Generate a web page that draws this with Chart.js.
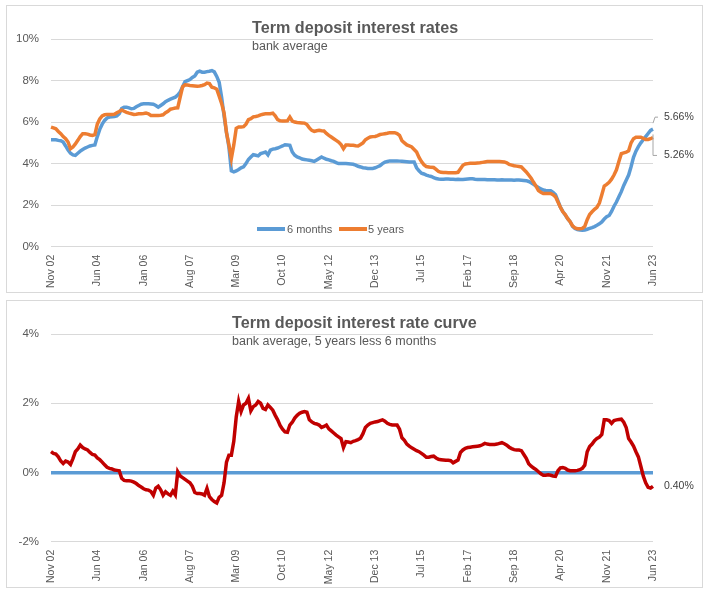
<!DOCTYPE html>
<html><head><meta charset="utf-8">
<script src="https://cdn.jsdelivr.net/npm/chart.js@4"></script>
<style>
html,body{margin:0;padding:0;background:#fff;}
body{width:709px;height:594px;position:relative;overflow:hidden;font-family:"Liberation Sans",Arial,sans-serif;}
.panel{position:absolute;left:6px;width:697px;height:288px;box-sizing:border-box;border:1px solid #d9d9d9;pointer-events:none;}
canvas.ch{position:absolute;left:6px;}
.title{position:absolute;font-weight:bold;font-size:17px;color:#595959;white-space:nowrap;transform-origin:0 0;transform:scaleX(0.95);line-height:1;}
.sub{position:absolute;font-size:12.5px;color:#595959;white-space:nowrap;line-height:1;}
.lg{position:absolute;height:4px;}
.lgt{position:absolute;font-size:11px;color:#595959;line-height:11px;white-space:nowrap;}
</style></head>
<body>
<canvas id="c1" class="ch" width="697" height="288" style="top:5px"></canvas>
<canvas id="c2" class="ch" width="697" height="288" style="top:300px"></canvas>
<div class="panel" style="top:5px"></div>
<div class="panel" style="top:300px"></div>
<div class="title" style="left:252px;top:19px">Term deposit interest rates</div>
<div class="sub" style="left:252px;top:40px">bank average</div>
<div class="title" style="left:232px;top:314px">Term deposit interest rate curve</div>
<div class="sub" style="left:232px;top:335px">bank average, 5 years less 6 months</div>
<div class="lg" style="left:257px;top:227px;width:28px;background:#5B9BD5"></div>
<div class="lgt" style="left:287px;top:223.5px">6 months</div>
<div class="lg" style="left:339px;top:227px;width:28px;background:#ED7D31"></div>
<div class="lgt" style="left:368px;top:223.5px">5 years</div>
<script>
const sixMonths = [
5.15,5.15,5.15,5.12,5.10,5.04,4.85,4.65,4.50,4.42,
4.40,4.50,4.60,4.68,4.75,4.80,4.85,4.88,4.90,5.30,
5.65,5.90,6.08,6.20,6.24,6.25,6.27,6.30,6.40,6.65,
6.72,6.72,6.68,6.64,6.66,6.74,6.80,6.86,6.88,6.88,
6.88,6.87,6.86,6.80,6.72,6.80,6.88,6.98,7.05,7.10,
7.15,7.20,7.30,7.45,7.70,7.95,8.00,8.05,8.15,8.22,
8.40,8.45,8.40,8.40,8.43,8.45,8.48,8.42,8.20,7.92,
7.20,6.30,5.50,4.80,3.65,3.60,3.65,3.72,3.80,3.85,
4.00,4.20,4.32,4.43,4.40,4.37,4.48,4.52,4.56,4.42,
4.65,4.70,4.72,4.75,4.80,4.85,4.91,4.90,4.88,4.56,
4.40,4.32,4.28,4.22,4.20,4.18,4.16,4.14,4.11,4.18,
4.25,4.32,4.26,4.21,4.18,4.14,4.11,4.05,4.00,4.00,
4.00,4.00,3.99,3.98,3.97,3.93,3.87,3.84,3.80,3.79,
3.77,3.76,3.77,3.80,3.85,3.90,4.00,4.07,4.10,4.13,
4.13,4.13,4.13,4.12,4.11,4.10,4.09,4.08,4.08,4.08,
3.80,3.65,3.54,3.50,3.45,3.41,3.38,3.33,3.28,3.26,
3.25,3.25,3.26,3.26,3.25,3.25,3.24,3.25,3.24,3.24,
3.25,3.26,3.27,3.27,3.25,3.24,3.24,3.24,3.23,3.22,
3.22,3.22,3.22,3.21,3.21,3.22,3.21,3.21,3.21,3.21,
3.20,3.21,3.21,3.20,3.19,3.18,3.14,3.08,3.00,2.92,
2.85,2.78,2.73,2.71,2.70,2.69,2.62,2.50,2.20,1.90,
1.70,1.52,1.35,1.20,0.98,0.88,0.82,0.80,0.79,0.80,
0.84,0.88,0.92,0.97,1.03,1.10,1.19,1.33,1.44,1.50,
1.70,1.95,2.15,2.40,2.65,2.95,3.20,3.45,3.85,4.30,
4.60,4.82,5.00,5.15,5.30,5.45,5.60,5.66];

const fiveYears = [
5.76,5.72,5.68,5.55,5.44,5.30,5.20,5.04,4.72,4.80,
4.95,5.12,5.30,5.44,5.44,5.42,5.38,5.36,5.40,5.90,
6.15,6.30,6.35,6.37,6.37,6.37,6.38,6.45,6.51,6.58,
6.52,6.47,6.43,6.40,6.37,6.38,6.40,6.40,6.41,6.43,
6.40,6.32,6.32,6.32,6.32,6.33,6.35,6.45,6.52,6.62,
6.65,6.68,6.69,7.20,7.70,7.79,7.78,7.76,7.75,7.74,
7.73,7.74,7.76,7.80,7.88,7.85,7.68,7.65,7.58,7.25,
6.90,6.45,5.50,4.90,4.25,4.90,5.70,5.76,5.76,5.78,
5.90,6.12,6.16,6.25,6.27,6.30,6.35,6.38,6.40,6.40,
6.40,6.43,6.30,6.12,6.06,6.05,6.05,6.06,6.24,6.05,
6.00,5.98,5.97,5.96,5.95,5.88,5.72,5.60,5.55,5.58,
5.60,5.58,5.57,5.45,5.36,5.28,5.20,5.12,5.04,4.92,
4.72,4.90,4.90,4.89,4.88,4.86,4.85,4.92,5.00,5.15,
5.22,5.28,5.30,5.31,5.35,5.40,5.42,5.44,5.46,5.49,
5.49,5.49,5.45,5.36,5.10,5.00,4.90,4.85,4.80,4.68,
4.56,4.30,4.10,3.95,3.86,3.84,3.82,3.81,3.72,3.62,
3.58,3.57,3.57,3.56,3.56,3.56,3.56,3.58,3.75,3.92,
3.98,4.00,4.02,4.02,4.02,4.03,4.04,4.06,4.08,4.10,
4.10,4.10,4.10,4.10,4.10,4.09,4.08,4.04,3.96,3.93,
3.90,3.88,3.86,3.84,3.72,3.60,3.45,3.30,3.10,2.92,
2.70,2.62,2.56,2.56,2.56,2.56,2.50,2.40,2.15,1.90,
1.68,1.55,1.35,1.20,1.00,0.90,0.87,0.87,0.88,0.98,
1.30,1.55,1.68,1.80,1.90,2.10,2.50,2.92,3.00,3.10,
3.25,3.45,3.70,4.10,4.48,4.52,4.55,4.62,5.00,5.20,
5.27,5.27,5.27,5.22,5.16,5.16,5.20,5.26];

const spread = [
0.60,0.55,0.53,0.45,0.33,0.26,0.33,0.30,0.23,0.40,
0.60,0.68,0.79,0.72,0.68,0.65,0.58,0.52,0.50,0.42,
0.37,0.30,0.22,0.15,0.12,0.10,0.07,0.06,0.05,-0.17,
-0.23,-0.24,-0.24,-0.25,-0.28,-0.32,-0.38,-0.42,-0.47,-0.50,
-0.51,-0.55,-0.66,-0.45,-0.40,-0.50,-0.66,-0.56,-0.62,-0.66,
-0.54,-0.65,0.02,-0.10,-0.15,-0.20,-0.25,-0.30,-0.40,-0.58,
-0.61,-0.61,-0.62,-0.66,-0.46,-0.70,-0.78,-0.84,-0.88,-0.72,
-0.66,-0.30,0.30,0.50,0.50,0.90,1.60,2.05,1.76,1.95,
2.00,2.14,1.78,1.90,1.95,2.05,2.00,1.85,1.82,1.95,
1.88,1.80,1.65,1.52,1.36,1.25,1.17,1.16,1.37,1.45,
1.57,1.65,1.71,1.74,1.76,1.74,1.52,1.46,1.42,1.40,
1.37,1.30,1.33,1.37,1.26,1.20,1.14,1.08,1.03,0.98,
0.72,0.89,0.88,0.86,0.90,0.92,0.95,0.99,1.12,1.30,
1.37,1.42,1.44,1.46,1.47,1.50,1.52,1.48,1.42,1.39,
1.37,1.37,1.37,1.25,1.00,0.93,0.82,0.76,0.71,0.67,
0.63,0.60,0.55,0.50,0.44,0.44,0.46,0.47,0.42,0.38,
0.37,0.36,0.35,0.35,0.34,0.28,0.32,0.36,0.58,0.65,
0.70,0.72,0.73,0.74,0.75,0.76,0.77,0.80,0.84,0.82,
0.81,0.81,0.81,0.82,0.84,0.86,0.83,0.79,0.73,0.69,
0.66,0.65,0.65,0.63,0.52,0.41,0.25,0.18,0.13,0.08,
0.02,-0.04,-0.08,-0.08,-0.07,-0.08,-0.10,-0.11,0.05,0.13,
0.14,0.12,0.07,0.05,0.05,0.05,0.06,0.08,0.12,0.21,
0.60,0.75,0.82,0.92,0.98,1.02,1.10,1.52,1.52,1.50,
1.42,1.50,1.52,1.53,1.54,1.45,1.30,0.98,0.88,0.76,
0.60,0.45,0.18,-0.10,-0.30,-0.43,-0.45,-0.40];

const monthNames = ['Jan','Feb','Mar','Apr','May','Jun','Jul','Aug','Sep','Oct','Nov','Dec'];
const categories = [];
for (let k = 0; k < sixMonths.length; k++) {
  const m = (10 + k) % 12, y = 2002 + Math.floor((10 + k) / 12);
  categories.push(monthNames[m] + ' ' + String(y % 100).padStart(2, '0'));
}
const labelEvery = 19;
const topTicks = {min: 0, max: 10, step: 2};
const bottomTicks = {min: -2, max: 4, step: 2};

Chart.defaults.font.family = '"Liberation Sans", Arial, sans-serif';

const endLabels = {
  id: 'endLabels',
  afterDatasetsDraw(chart, args, opts) {
    if (!opts || !opts.items) return;
    const ctx = chart.ctx;
    ctx.save();
    ctx.font = '10.5px "Liberation Sans", Arial, sans-serif';
    ctx.fillStyle = '#404040';
    ctx.textBaseline = 'middle';
    ctx.textAlign = 'left';
    ctx.strokeStyle = '#a6a6a6';
    ctx.lineWidth = 1;
    opts.items.forEach(it => {
      const meta = chart.getDatasetMeta(it.ds);
      const pt = meta.data[meta.data.length - 1];
      const vals = chart.data.datasets[it.ds].data;
      const v = vals[vals.length - 1];
      const px = pt.x, py = pt.y;
      if (it.leader && it.leader.length) {
        ctx.beginPath();
        it.leader.forEach((p, j) => { j ? ctx.lineTo(px + p[0], py + p[1]) : ctx.moveTo(px + p[0], py + p[1]); });
        ctx.stroke();
      }
      ctx.fillText(Math.abs(v).toFixed(2) + '%', px + it.tx, py + it.ty);
    });
    ctx.restore();
  }
};

function xAxis() {
  return {
    grid: {display: false}, border: {display: false},
    ticks: {autoSkip: false, minRotation: 90, maxRotation: 90, padding: 0, font: {size: 10.5}, color: '#595959',
      callback: (v, i) => (i % labelEvery === 0 ? categories[i] : null)},
    afterFit(s) { s.height = 46.3; }
  };
}

new Chart(document.getElementById('c1'), {
  type: 'line',
  data: {labels: categories, datasets: [
    {label: '5 years', data: fiveYears, borderColor: '#ED7D31', backgroundColor: '#ED7D31', borderWidth: 3.5, pointRadius: 0, tension: 0, order: 0},
    {label: '6 months', data: sixMonths, borderColor: '#5B9BD5', backgroundColor: '#5B9BD5', borderWidth: 3.5, pointRadius: 0, tension: 0, order: 1}
  ]},
  options: {
    responsive: false, animation: false,
    layout: {padding: {top: 34, right: 50, left: 0, bottom: 0}},
    plugins: {legend: {display: false}, tooltip: {enabled: false},
      endLabels: {items: [
        {ds: 1, leader: [[0, -6], [2, -12], [5, -12]], tx: 11, ty: -12},
        {ds: 0, leader: [[0, -3], [0, 18], [4, 18]], tx: 11, ty: 18}
      ]}},
    scales: {
      x: xAxis(),
      y: {min: topTicks.min, max: topTicks.max,
        ticks: {stepSize: topTicks.step, callback: v => v + '%', padding: 12, font: {size: 11.5}, color: '#595959'},
        grid: {color: '#d9d9d9', drawTicks: false, lineWidth: 1}, border: {display: false},
        afterFit(s) { s.width = 45; }}
    }
  },
  plugins: [endLabels]
});

new Chart(document.getElementById('c2'), {
  type: 'line',
  data: {labels: categories, datasets: [
    {label: 'Spread', data: spread, borderColor: '#C00000', backgroundColor: '#C00000', borderWidth: 3.5, pointRadius: 0, tension: 0}
  ]},
  options: {
    responsive: false, animation: false,
    layout: {padding: {top: 34, right: 50, left: 0, bottom: 0}},
    plugins: {legend: {display: false}, tooltip: {enabled: false},
      endLabels: {items: [{ds: 0, leader: [], tx: 11, ty: 0}]}},
    scales: {
      x: xAxis(),
      y: {min: bottomTicks.min, max: bottomTicks.max,
        ticks: {stepSize: bottomTicks.step, callback: v => v + '%', padding: 12, font: {size: 11.5}, color: '#595959'},
        grid: {drawTicks: false,
          color: c => (c.tick && c.tick.value === 0 ? '#5B9BD5' : '#d9d9d9'),
          lineWidth: c => (c.tick && c.tick.value === 0 ? 3.5 : 1)},
        border: {display: false},
        afterFit(s) { s.width = 45; }}
    }
  },
  plugins: [endLabels]
});
</script>
</body></html>
